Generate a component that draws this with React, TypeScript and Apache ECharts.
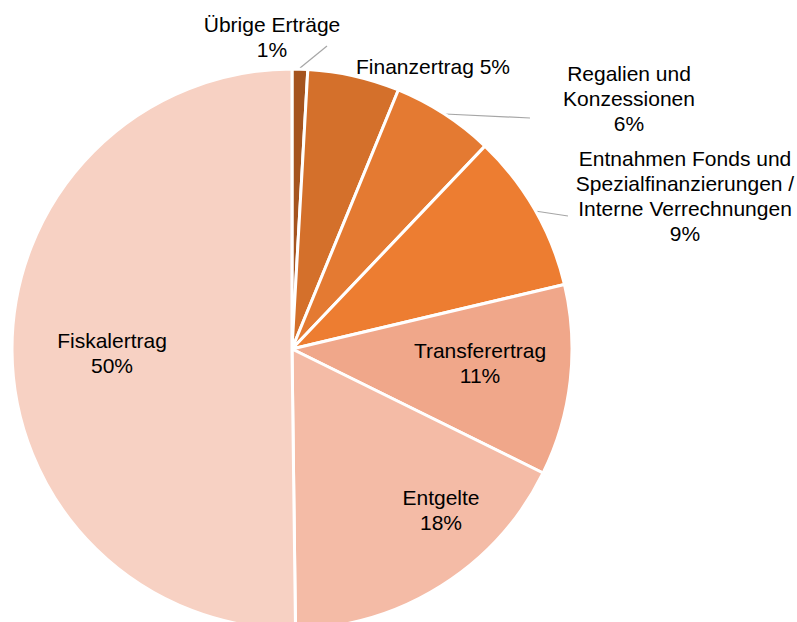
import React, { useEffect, useRef } from "react";
import * as echarts from "echarts";

const categories = [
  "Übrige Erträge",
  "Finanzertrag",
  "Regalien und\nKonzessionen",
  "Entnahmen Fonds und\nSpezialfinanzierungen /\nInterne Verrechnungen",
  "Transferertrag",
  "Entgelte",
  "Fiskalertrag",
];
const values = [0.9, 5.3, 5.9, 9.2, 11.0, 17.5, 50.2];
const colors = ["#A5541F", "#D4702B", "#E47A32", "#ED7D31", "#F0A78A", "#F4BBA6", "#F7D1C3"];

// label layout (block centres) and leader lines
const labelPos: [number, number][] = [
  [272, 37],
  [433, 66],
  [629, 98],
  [685, 196],
  [480, 363],
  [441, 510],
  [112, 353],
];
const leaderLines: (number[][] | null)[] = [
  [[300, 68], [327, 46]],
  null,
  [[445, 114], [530, 118]],
  [[535, 211], [568, 216]],
  null,
  null,
  null,
];
const singleLine = [false, true, false, false, false, false, false];

export default function App() {
  const ref = useRef<HTMLDivElement>(null);
  useEffect(() => {
    document.body.style.margin = "0";
    const chart = echarts.init(ref.current!, null, { renderer: "svg" });
    chart.setOption({
      animation: false,
      series: [
        {
          type: "pie",
          center: [292, 349],
          radius: 280,
          startAngle: 90,
          clockwise: true,
          percentPrecision: 0,
          avoidLabelOverlap: false,
          itemStyle: { borderColor: "#ffffff", borderWidth: 3 },
          label: {
            show: true,
            position: "outside",
            color: "#000000",
            fontFamily: "Liberation Sans, Arial, sans-serif",
            fontSize: 21,
            lineHeight: 25,
            align: "center",
            formatter: (p: any) =>
              singleLine[p.dataIndex] ? `${p.name} ${p.percent}%` : `${p.name}\n${p.percent}%`,
          },
          labelLine: {
            show: true,
            lineStyle: { color: "#A6A6A6", width: 1.2 },
          },
          labelLayout: (params: any) => {
            const i = params.dataIndex;
            const out: any = {
              x: labelPos[i][0],
              y: labelPos[i][1],
              align: "center",
              verticalAlign: "middle",
            };
            if (leaderLines[i]) out.labelLinePoints = leaderLines[i];
            return out;
          },
          data: categories.map((name, i) => ({
            name,
            value: values[i],
            itemStyle: { color: colors[i] },
            labelLine: { show: leaderLines[i] != null },
          })),
        },
      ],
    });
    return () => chart.dispose();
  }, []);
  return <div ref={ref} style={{ width: 797, height: 622 }} />;
}
